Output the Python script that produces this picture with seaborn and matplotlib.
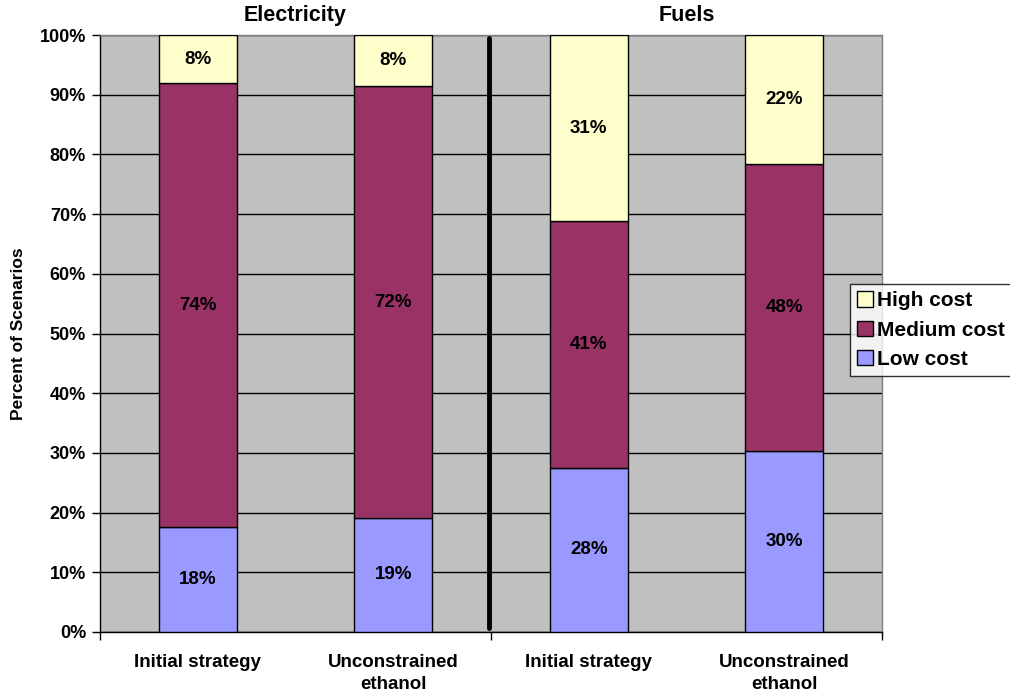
import matplotlib
matplotlib.use("Agg")
import matplotlib.pyplot as plt
import seaborn as sns
import pandas as pd
import numpy as np
from matplotlib.patches import Patch

sns.set_theme(style="white")
plt.rcParams['font.family'] = ['Liberation Sans', 'DejaVu Sans']
plt.rcParams['font.weight'] = 'bold'
plt.rcParams['text.color'] = 'black'
plt.rcParams['axes.labelcolor'] = 'black'
plt.rcParams['xtick.color'] = 'black'
plt.rcParams['ytick.color'] = 'black'

keys = ["E_init", "E_unc", "F_init", "F_unc"]
tick_labels = ["Initial strategy", "Unconstrained\nethanol", "Initial strategy", "Unconstrained\nethanol"]
low = [17.6, 19.1, 27.5, 30.3]
medium = [74.3, 72.3, 41.3, 48.1]
high = [8.1, 8.6, 31.2, 21.6]
low_lbl = ["18%", "19%", "28%", "30%"]
med_lbl = ["74%", "72%", "41%", "48%"]
high_lbl = ["8%", "8%", "31%", "22%"]
groups = ["Electricity", "Fuels"]
c_low, c_med, c_high = "#9999FF", "#993366", "#FFFFCC"

df = pd.DataFrame({"key": keys, "low": low, "medium": medium, "high": high})
df["b_med"] = df["low"]
df["b_high"] = df["low"] + df["medium"]

fig = plt.figure(figsize=(10.1, 6.93), dpi=100)
ax = fig.add_axes([100/1010, 61/693, 782/1010, 597/693])
ax.set_facecolor("#C0C0C0")

kw = dict(width=0.4, edgecolor="black", linewidth=1.0, ax=ax, order=keys, zorder=3)
sns.barplot(data=df, x="key", y="low", color=c_low, saturation=1, **kw)
sns.barplot(data=df, x="key", y="medium", bottom=df["b_med"], color=c_med, saturation=1, **kw)
sns.barplot(data=df, x="key", y="high", bottom=df["b_high"], color=c_high, saturation=1, **kw)

lfs = 13.5
for i in range(4):
    ax.text(i, low[i] / 2, low_lbl[i], ha="center", va="center", fontsize=lfs, fontweight="bold", zorder=5)
    ax.text(i, low[i] + medium[i] / 2, med_lbl[i], ha="center", va="center", fontsize=lfs, fontweight="bold", zorder=5)
    ax.text(i, low[i] + medium[i] + high[i] / 2, high_lbl[i], ha="center", va="center", fontsize=lfs, fontweight="bold", zorder=5)

ax.set_xlim(-0.5, 3.5)
ax.set_ylim(0, 100)
ax.set_yticks(np.arange(0, 101, 10))
ax.set_yticklabels([f"{v}%" for v in range(0, 101, 10)], fontsize=13, fontweight="bold")
ax.yaxis.grid(True, color="black", linewidth=1.0, zorder=0)
ax.set_axisbelow(True)
ax.set_xticks(range(4))
ax.set_xticklabels(tick_labels, fontsize=13.5, fontweight="bold", linespacing=1.35)
ax.tick_params(axis="x", which="major", length=0, pad=16)
ax.set_xticks([-0.5, 1.5, 3.5], minor=True)
ax.tick_params(axis="x", which="minor", length=6, width=1, color="black", direction="out", bottom=True)
ax.tick_params(axis="y", length=6, width=1, color="black", direction="out", left=True, pad=4)
ax.set_xlabel("")
ax.set_ylabel("Percent of Scenarios", fontsize=12.5, fontweight="bold", labelpad=10)

for s in ["left", "bottom"]:
    ax.spines[s].set_color("black")
    ax.spines[s].set_linewidth(1.0)
for s in ["top", "right"]:
    ax.spines[s].set_color("#808080")
    ax.spines[s].set_linewidth(1.0)

ax.axvline(1.49, ymin=0.006, ymax=0.995, color="black", linewidth=3.5, zorder=4)

ax.text(0.5, 101.5, groups[0], ha="center", va="bottom", fontsize=15.5, fontweight="bold")
ax.text(2.5, 101.5, groups[1], ha="center", va="bottom", fontsize=15.5, fontweight="bold")

handles = [Patch(facecolor=c_high, edgecolor="black", label="High cost"),
           Patch(facecolor=c_med, edgecolor="black", label="Medium cost"),
           Patch(facecolor=c_low, edgecolor="black", label="Low cost")]
leg = fig.legend(handles=handles, loc="upper left", bbox_to_anchor=(850/1010, 1 - 284/693),
                 borderaxespad=0, frameon=True, fancybox=False, edgecolor="black",
                 prop={"size": 15, "weight": "bold"}, handlelength=0.75, handleheight=0.75,
                 handletextpad=0.2, labelspacing=0.5, borderpad=0.35)
leg.get_frame().set_linewidth(1.0)

fig.savefig("out.png", dpi=100, facecolor="white")
